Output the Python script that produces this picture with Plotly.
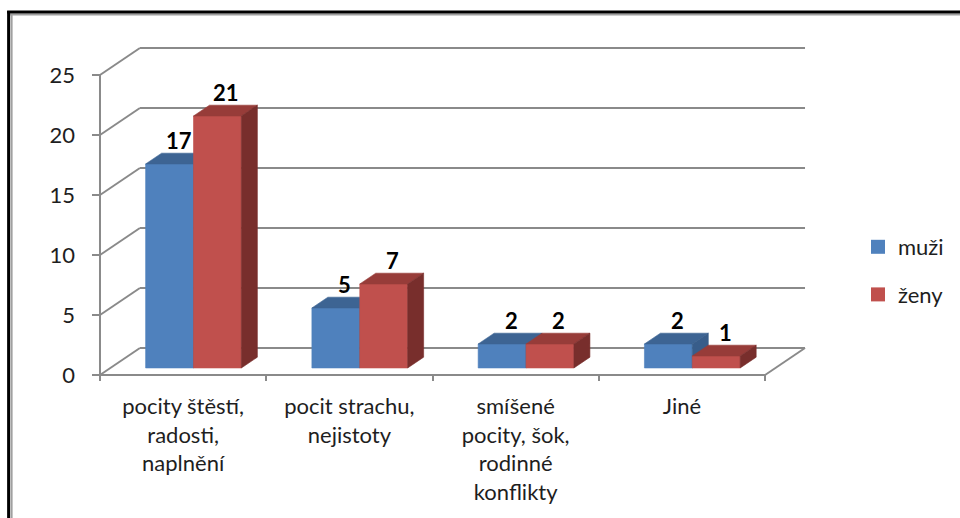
import plotly.graph_objects as go

# ---- data -------------------------------------------------------------
categories = [
    "pocity štěstí,<br>radosti,<br>naplnění",
    "pocit strachu,<br>nejistoty",
    "smíšené<br>pocity, šok,<br>rodinné<br>konflikty",
    "Jiné",
]
muzi = [17, 5, 2, 2]
zeny = [21, 7, 2, 1]
series_names = ["muži", "ženy"]
y_ticks = [0, 5, 10, 15, 20, 25]

# ---- styling ----------------------------------------------------------
FONT = "Lato"
FONT_SIZE = 22
TEXT = "#1e1e1e"
GRID = "#8a8a8a"
# front, top, side shades for each series
SHADES = [
    ("#4f81bd", "#3d6493", "#385d8a"),
    ("#c0504d", "#973c39", "#782e2c"),
]

# 3-D projection (depth 0 = front plane, 1 = back wall), in data units
PX_PER_CAT = 166.5
PX_PER_UNIT = 12.0
DX = 40 / PX_PER_CAT
DY = 27 / PX_PER_UNIT
F0, F1 = 0.26, 0.66          # depth span of the bars
BAR_W = 0.288                 # width of one bar in category units

n_cat = len(categories)
x_lo, x_hi = -0.5, n_cat - 0.5
y_top = max(y_ticks)


def proj(x, v, f):
    return x + f * DX, v + f * DY


def poly(points):
    xs, ys = zip(*[proj(*p) for p in points])
    return list(xs) + [xs[0]], list(ys) + [ys[0]]


fig = go.Figure()

# walls: gridlines on the back wall and the left side wall
gx, gy = [], []
for v in y_ticks:
    for a, b in (((x_lo, v, 1), (x_hi, v, 1)), ((x_lo, v, 0), (x_lo, v, 1))):
        pa, pb = proj(*a), proj(*b)
        gx += [pa[0], pb[0], None]
        gy += [pa[1], pb[1], None]
# floor: front edge, right edge and the front value axis
for a, b in (((x_lo, 0, 0), (x_hi, 0, 0)), ((x_hi, 0, 0), (x_hi, 0, 1)),
             ((x_lo, 0, 0), (x_lo, y_top, 0))):
    pa, pb = proj(*a), proj(*b)
    gx += [pa[0], pb[0], None]
    gy += [pa[1], pb[1], None]
fig.add_trace(go.Scatter(x=gx, y=gy, mode="lines", line=dict(color=GRID, width=2),
                         hoverinfo="skip", showlegend=False))

# bars
annotations = []
for c in range(n_cat):
    for s, values in enumerate((muzi, zeny)):
        v = values[c]
        x0 = c - BAR_W + s * BAR_W
        x1 = x0 + BAR_W
        front, top, side = SHADES[s]
        faces = [
            (front, [(x0, 0, F0), (x1, 0, F0), (x1, v, F0), (x0, v, F0)]),
            (top, [(x0, v, F0), (x1, v, F0), (x1, v, F1), (x0, v, F1)]),
            (side, [(x1, 0, F0), (x1, 0, F1), (x1, v, F1), (x1, v, F0)]),
        ]
        for color, pts in faces:
            px, py = poly(pts)
            fig.add_trace(go.Scatter(x=px, y=py, mode="lines", fill="toself",
                                     fillcolor=color, line=dict(color=color, width=0.6),
                                     hoverinfo="skip", showlegend=False))
        lx, ly = proj((x0 + x1) / 2, v, (F0 + F1) / 2)
        annotations.append(dict(x=lx, y=ly, xref="x", yref="y", text=f"<b>{v}</b>",
                                showarrow=False, yshift=18, xshift=1,
                                font=dict(family=FONT, size=FONT_SIZE, color="#000000")))

# legend entries
for s, name in enumerate(series_names):
    fig.add_trace(go.Scatter(x=[None], y=[None], mode="markers", name=name,
                             legendgroup=name,
                             marker=dict(symbol="square", size=14, color=SHADES[s][0])))

# ---- layout -----------------------------------------------------------
L, R, T, B = 92, 150, 40, 137
W, H = 960, 518
plot_w, plot_h = W - L - R, H - T - B
x_range = [x_lo - (100 - L) / PX_PER_CAT, x_lo + (W - R - 100) / PX_PER_CAT]
y_range = [-6 / PX_PER_UNIT, (375 - T) / PX_PER_UNIT]


def paper_x(px):
    return (px - L) / plot_w


def paper_y(py):
    return (H - B - py) / plot_h


# outer frame of the chart area (top and left edges with a soft shadow)
shapes = [
    dict(type="line", xref="paper", yref="paper", x0=paper_x(10), x1=paper_x(962),
         y0=paper_y(14.5), y1=paper_y(14.5), line=dict(color="#a0a0a0", width=2)),
    dict(type="line", xref="paper", yref="paper", x0=paper_x(11.5), x1=paper_x(11.5),
         y0=paper_y(14), y1=paper_y(520), line=dict(color="#a0a0a0", width=2)),
    dict(type="line", xref="paper", yref="paper", x0=paper_x(7), x1=paper_x(962),
         y0=paper_y(12), y1=paper_y(12), line=dict(color="#000000", width=3)),
    dict(type="line", xref="paper", yref="paper", x0=paper_x(8.5), x1=paper_x(8.5),
         y0=paper_y(11), y1=paper_y(520), line=dict(color="#000000", width=3)),
]

fig.update_layout(
    width=W, height=H, autosize=False,
    margin=dict(l=L, r=R, t=T, b=B, pad=0),
    paper_bgcolor="#ffffff", plot_bgcolor="#ffffff",
    font=dict(family=FONT, size=FONT_SIZE, color=TEXT),
    shapes=shapes,
    annotations=annotations,
    showlegend=True,
    legend=dict(x=paper_x(858), y=paper_y(226), xanchor="left", yanchor="top",
                traceorder="grouped", tracegroupgap=16,
                font=dict(family=FONT, size=FONT_SIZE, color=TEXT),
                bgcolor="rgba(0,0,0,0)", itemwidth=30),
    xaxis=dict(range=x_range, showgrid=False, zeroline=False, showline=False,
               tickmode="array", tickvals=list(range(n_cat)), ticktext=categories,
               ticks="", ticklabelstandoff=10,
               minor=dict(tickmode="linear", tick0=x_lo, dtick=1, ticks="inside",
                          ticklen=6, tickwidth=2, tickcolor=GRID, showgrid=False),
               fixedrange=True),
    yaxis=dict(range=y_range, showgrid=False, zeroline=False, showline=False,
               tickmode="array", tickvals=y_ticks, ticks="inside", ticklen=8,
               tickwidth=2, tickcolor=GRID, ticklabelstandoff=16, fixedrange=True),
)

fig.write_html("out.html")
